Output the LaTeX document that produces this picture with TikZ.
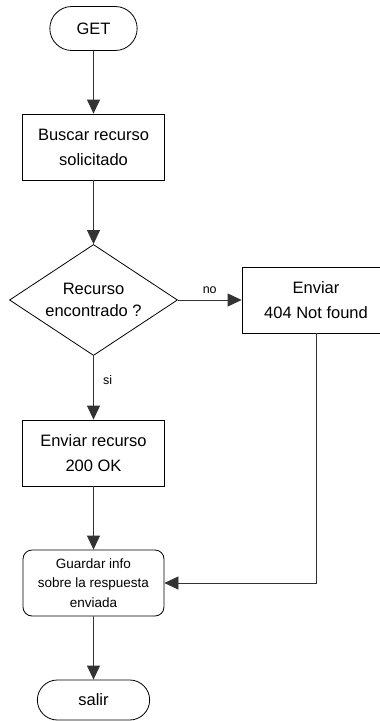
\documentclass[tikz,border=0pt]{standalone}
\usepackage{fontspec}
\setmainfont{Liberation Sans}
\usetikzlibrary{shapes.geometric, shapes.misc, arrows.meta}
\begin{document}
\begin{tikzpicture}[x=1pt, y=-1pt, line width=0.8pt,
  terminal/.style={rounded rectangle, draw, minimum width=#1, minimum height=44pt,
    font=\fontsize{16.5}{25}\selectfont},
  caja/.style={rectangle, draw, minimum width=142pt, minimum height=66pt, align=center,
    font=\fontsize{16.5}{25}\selectfont},
  decision/.style={diamond, draw, aspect=1.5, inner sep=0pt, minimum width=168pt,
    minimum height=111pt, align=center, font=\fontsize{16.5}{22}\selectfont},
  guardar/.style={rectangle, draw, rounded corners=9pt, minimum width=141pt,
    minimum height=66pt, align=center, font=\fontsize{13.5}{19.5}\selectfont},
  flecha/.style={draw=black!80, -{Triangle[width=13pt, length=14pt]}},
  etiqueta/.style={font=\fontsize{12.5}{15}\selectfont}]
  \useasboundingbox (0,0) rectangle (380,721);
  \node[terminal=94pt] (get) at (93.5,28.5) {GET};
  \node[caja] (buscar) at (93.5,147) {Buscar recurso\\solicitado};
  \node[decision] (encontrado) at (93.5,300) {Recurso\\encontrado ?};
  \node[caja, minimum width=148pt] (notfound) at (316,300) {Enviar\\404 Not found};
  \node[caja] (enviar) at (93.5,453) {Enviar recurso\\200 OK};
  \node[guardar] (info) at (93.5,583) {Guardar info\\sobre la respuesta\\enviada};
  \node[terminal=119pt, minimum height=40pt] (salir) at (93.5,700) {salir};
  \draw[flecha] (get) -- (buscar);
  \draw[flecha] (buscar) -- (encontrado);
  \draw[flecha] (encontrado.east) -- node[etiqueta, above=3pt] {no} (notfound.west);
  \draw[flecha] (encontrado.south) -- node[etiqueta, right=6pt, pos=0.38] {si} (enviar.north);
  \draw[flecha] (enviar) -- (info);
  \draw[flecha] (notfound.south) |- (info.east);
  \draw[flecha] (info) -- (salir);
\end{tikzpicture}
\end{document}
